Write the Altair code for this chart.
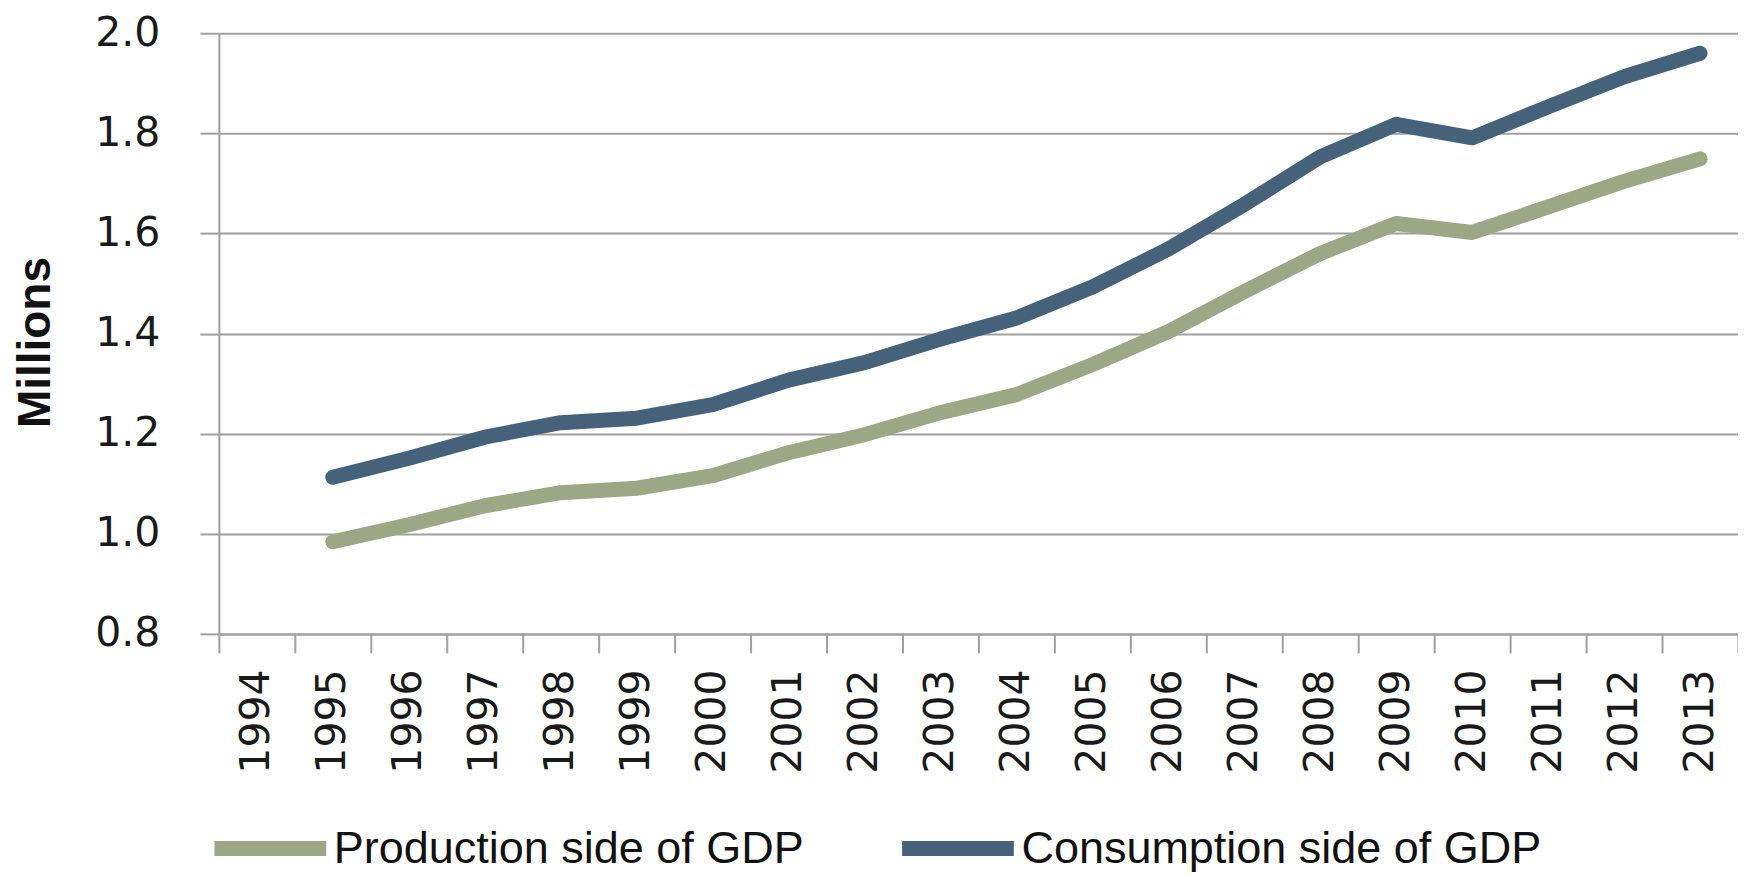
import altair as alt
import pandas as pd

years = [str(y) for y in range(1994, 2014)]
data_years = [str(y) for y in range(1995, 2014)]
production = [0.984, 1.018, 1.056, 1.082, 1.091, 1.116, 1.162, 1.198, 1.242, 1.278,
              1.338, 1.404, 1.484, 1.560, 1.620, 1.602, 1.653, 1.704, 1.749]
consumption = [1.113, 1.151, 1.193, 1.222, 1.231, 1.258, 1.307, 1.342, 1.389, 1.431,
               1.493, 1.569, 1.658, 1.753, 1.818, 1.791, 1.853, 1.913, 1.960]
series = ["Production side of GDP", "Consumption side of GDP"]
colors = ["#9DA786", "#46627B"]
y_ticks = [0.8, 1.0, 1.2, 1.4, 1.6, 1.8, 2.0]

rows = []
for yr, v in zip(data_years, production):
    rows.append({"year": yr, "value": v, "series": series[0]})
for yr, v in zip(data_years, consumption):
    rows.append({"year": yr, "value": v, "series": series[1]})
df = pd.DataFrame(rows)

W, H = 1520, 601

chart = alt.Chart(df).mark_line(strokeWidth=15, strokeCap="round", strokeJoin="round").encode(
    x=alt.X("year:O", scale=alt.Scale(type="band", domain=years, paddingInner=0, paddingOuter=0),
            axis=alt.Axis(title=None, labelAngle=-90, labelFont="DejaVu Sans", labelFontSize=41,
                          labelColor="#1A1A1A", labelPadding=16, tickSize=19, tickColor="#A0A0A0",
                          tickWidth=2, tickBand="extent", domainColor="#A0A0A0", domainWidth=2,
                          grid=False)),
    y=alt.Y("value:Q", scale=alt.Scale(domain=[0.8, 2.0], nice=False, zero=False),
            axis=alt.Axis(title="Millions", values=y_ticks, format=".1f",
                          labelFont="DejaVu Sans", labelFontSize=41, labelColor="#1A1A1A",
                          labelPadding=40, tickSize=19, tickColor="#A0A0A0", tickWidth=2,
                          domainColor="#A0A0A0", domainWidth=2,
                          grid=True, gridColor="#A0A0A0", gridWidth=2,
                          titleFont="Liberation Sans", titleFontSize=46, titleFontWeight="bold",
                          titleColor="#111111", titleX=-159, titleY=309, titleAngle=-90,
                          titleAlign="center", titleBaseline="bottom")),
    color=alt.Color("series:N", scale=alt.Scale(domain=series, range=colors),
                    legend=alt.Legend(title=None, orient="none", direction="horizontal",
                                      legendX=-12, legendY=752, symbolType="stroke",
                                      symbolSize=12500, symbolStrokeWidth=15,
                                      labelFont="Liberation Sans", labelFontSize=45,
                                      labelColor="#111111", labelOffset=0, columnPadding=67,
                                      labelLimit=800)),
).properties(
    width=W, height=H,
    autosize=alt.AutoSizeParams(type="none"),
    padding={"left": 211, "top": 25, "right": 0, "bottom": 240},
).configure_view(stroke=None).configure(background="white")

chart.save("out.html", embed_options={"renderer": "svg", "actions": False})
